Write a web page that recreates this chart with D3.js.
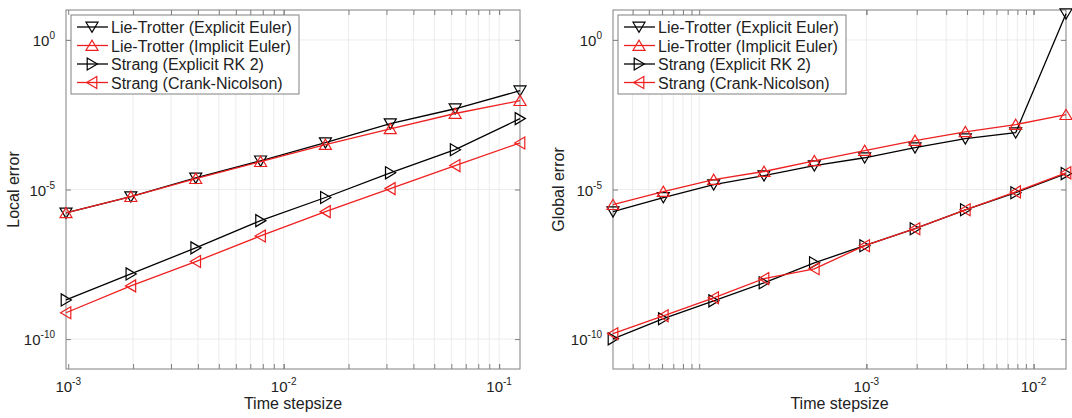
<!DOCTYPE html>
<html>
<head>
<meta charset="utf-8">
<script src="https://cdn.jsdelivr.net/npm/d3@7"></script>
<style>
body{margin:0;background:#fff;}
text{font-family:"Liberation Sans",Arial,sans-serif;fill:#222;}
</style>
</head>
<body>
<script>
// time steps
var leftSteps = [0.0009765625, 0.001953125, 0.00390625, 0.0078125, 0.015625, 0.03125, 0.0625, 0.125];
var rightSteps = [3.0517578125e-5, 6.103515625e-5, 1.220703125e-4, 2.44140625e-4, 4.8828125e-4,
                  9.765625e-4, 1.953125e-3, 3.90625e-3, 7.8125e-3, 1.5625e-2];

// local error
var localLTExplicit = [1.66e-6, 5.75e-6, 2.45e-5, 9.1e-5, 3.7e-4, 1.58e-3, 5.0e-3, 2.0e-2];
var localLTImplicit = [1.66e-6, 5.75e-6, 2.3e-5, 8.5e-5, 3.16e-4, 1.07e-3, 3.47e-3, 9.3e-3];
var localStrangRK2  = [2.04e-9, 1.51e-8, 1.12e-7, 9.1e-7, 5.4e-6, 3.6e-5, 2.14e-4, 2.34e-3];
var localStrangCN   = [7.6e-10, 6.0e-9, 3.9e-8, 2.8e-7, 1.82e-6, 1.07e-5, 6.3e-5, 3.6e-4];

// global error
var globalLTExplicit = [1.82e-6, 5.4e-6, 1.45e-5, 2.9e-5, 6.3e-5, 1.15e-4, 2.5e-4, 5.0e-4, 7.9e-4, 7.5];
var globalLTImplicit = [3.1e-6, 8.5e-6, 2.14e-5, 4.0e-5, 9.1e-5, 2.0e-4, 4.3e-4, 8.5e-4, 1.48e-3, 3.16e-3];
var globalStrangRK2  = [1.02e-10, 4.8e-10, 1.9e-9, 7.6e-9, 3.55e-8, 1.32e-7, 4.9e-7, 2.1e-6, 7.8e-6, 3.4e-5];
var globalStrangCN   = [1.51e-10, 6.0e-10, 2.4e-9, 1.05e-8, 2.24e-8, 1.32e-7, 4.9e-7, 2.1e-6, 8.3e-6, 3.6e-5];

var seriesNames = ['Lie-Trotter (Explicit Euler)', 'Lie-Trotter (Implicit Euler)',
                   'Strang (Explicit RK 2)', 'Strang (Crank-Nicolson)'];
var seriesColors = ['#000', '#ee2020', '#000', '#ee2020'];
var seriesMarkers = ['down', 'up', 'right', 'left'];

// ticks
var yTicks = [1e-10, 1e-5, 1e0];
var leftXLabels = [1e-3, 1e-2, 1e-1];
var leftXGrid = [2e-3,3e-3,4e-3,5e-3,6e-3,7e-3,8e-3,9e-3,1e-2,2e-2,3e-2,4e-2,5e-2,6e-2,7e-2,8e-2,9e-2,1e-1];
var rightXLabels = [1e-3, 1e-2];
var rightXGrid = [4e-5,5e-5,6e-5,7e-5,8e-5,9e-5,1e-4,1e-3,2e-3,3e-3,4e-3,5e-3,6e-3,7e-3,8e-3,9e-3,1e-2];

var svg = d3.select('body').append('svg').attr('width', 1072).attr('height', 418);

function markerPath(type, r){
	if(type=='down') return 'M'+(-r)+','+(-r*0.8)+'L'+r+','+(-r*0.8)+'L0,'+(r*0.9)+'Z';
	if(type=='up') return 'M'+(-r)+','+(r*0.8)+'L'+r+','+(r*0.8)+'L0,'+(-r*0.9)+'Z';
	if(type=='right') return 'M'+(-r*0.8)+','+(-r)+'L'+(-r*0.8)+','+r+'L'+(r*0.9)+',0Z';
	return 'M'+(r*0.8)+','+(-r)+'L'+(r*0.8)+','+r+'L'+(-r*0.9)+',0Z';
}

function expLabel(sel, v){
	var e = Math.round(Math.log10(v));
	sel.append('tspan').text('10');
	sel.append('tspan').attr('dy', -7).attr('font-size', 10).text(e);
}

function draw_panel(opt){
	var L = opt.left, R = opt.right, T = 10, B = 369;
	var x = d3.scaleLog().domain([opt.steps[0], opt.steps[opt.steps.length-1]]).range([L, R]);
	var y = d3.scaleLog().domain([1e-11, 1e1]).range([B, T]);
	var g = svg.append('g');

	// grid
	g.selectAll('.vg').data(opt.grid).enter().append('line')
		.attr('x1', d=>x(d)).attr('x2', d=>x(d)).attr('y1', T).attr('y2', B)
		.attr('stroke', '#ececec').attr('stroke-width', 1);
	g.selectAll('.hg').data(yTicks).enter().append('line')
		.attr('x1', L).attr('x2', R).attr('y1', d=>y(d)).attr('y2', d=>y(d))
		.attr('stroke', '#ececec').attr('stroke-width', 1);

	// ticks (inside, all four sides)
	var allX = opt.labels.concat(opt.grid);
	g.append('g').attr('transform', 'translate(0,'+B+')')
		.call(d3.axisBottom(x).tickValues(allX).tickSize(-5).tickFormat(''));
	g.append('g').attr('transform', 'translate(0,'+T+')')
		.call(d3.axisTop(x).tickValues(allX).tickSize(-5).tickFormat(''));
	g.append('g').attr('transform', 'translate('+L+',0)')
		.call(d3.axisLeft(y).tickValues(yTicks).tickSize(-5).tickFormat(''));
	g.append('g').attr('transform', 'translate('+R+',0)')
		.call(d3.axisRight(y).tickValues(yTicks).tickSize(-5).tickFormat(''));
	g.selectAll('.domain').remove();
	g.selectAll('.tick line').attr('stroke', '#808080');
	g.append('rect').attr('x', L).attr('y', T).attr('width', R-L).attr('height', B-T)
		.attr('fill', 'none').attr('stroke', '#808080').attr('stroke-width', 1);

	// tick labels
	g.selectAll('.xl').data(opt.labels).enter().append('text')
		.attr('x', d=>x(d)).attr('y', 392).attr('text-anchor', 'middle').attr('font-size', 15)
		.each(function(d){ expLabel(d3.select(this), d); });
	g.selectAll('.yl').data(yTicks).enter().append('text')
		.attr('x', L-11).attr('y', d=>y(d)+6).attr('text-anchor', 'end').attr('font-size', 15)
		.each(function(d){ expLabel(d3.select(this), d); });

	// axis labels
	g.append('text').attr('x', (L+R)/2).attr('y', 409).attr('text-anchor', 'middle')
		.attr('font-size', 16).text('Time stepsize');
	g.append('text').attr('transform', 'translate('+opt.ylabX+','+((T+B)/2)+') rotate(-90)')
		.attr('text-anchor', 'middle').attr('font-size', 16).text(opt.ylabel);

	// series
	var line = d3.line().x(d=>x(d[0])).y(d=>y(d[1]));
	opt.series.forEach(function(vals, i){
		var pts = opt.steps.map((s, j)=>[s, vals[j]]);
		g.append('path').datum(pts).attr('d', line)
			.attr('fill', 'none').attr('stroke', seriesColors[i]).attr('stroke-width', 1.3);
		g.selectAll('.m'+i).data(pts).enter().append('path')
			.attr('transform', d=>'translate('+x(d[0])+','+y(d[1])+')')
			.attr('d', markerPath(seriesMarkers[i], 6))
			.attr('fill', 'none').attr('stroke', seriesColors[i]).attr('stroke-width', 1.2);
	});

	// legend
	var lx = L+5, ly = 15;
	var lg = g.append('g');
	lg.append('rect').attr('x', lx).attr('y', ly).attr('width', 228).attr('height', 79)
		.attr('fill', '#fff').attr('stroke', '#808080');
	seriesNames.forEach(function(name, i){
		var cy = ly + 12 + i*18.5;
		lg.append('line').attr('x1', lx+6).attr('x2', lx+37).attr('y1', cy).attr('y2', cy)
			.attr('stroke', seriesColors[i]).attr('stroke-width', 1.3);
		lg.append('path').attr('transform', 'translate('+(lx+21)+','+cy+')')
			.attr('d', markerPath(seriesMarkers[i], 6))
			.attr('fill', 'none').attr('stroke', seriesColors[i]).attr('stroke-width', 1.2);
		lg.append('text').attr('x', lx+40).attr('y', cy+6).attr('font-size', 16).text(name);
	});
}

draw_panel({left:66, right:520, steps:leftSteps, grid:leftXGrid, labels:leftXLabels,
	ylabel:'Local error', ylabX:19,
	series:[localLTExplicit, localLTImplicit, localStrangRK2, localStrangCN]});
draw_panel({left:613, right:1066, steps:rightSteps, grid:rightXGrid, labels:rightXLabels,
	ylabel:'Global error', ylabX:564,
	series:[globalLTExplicit, globalLTImplicit, globalStrangRK2, globalStrangCN]});
</script>
</body>
</html>
